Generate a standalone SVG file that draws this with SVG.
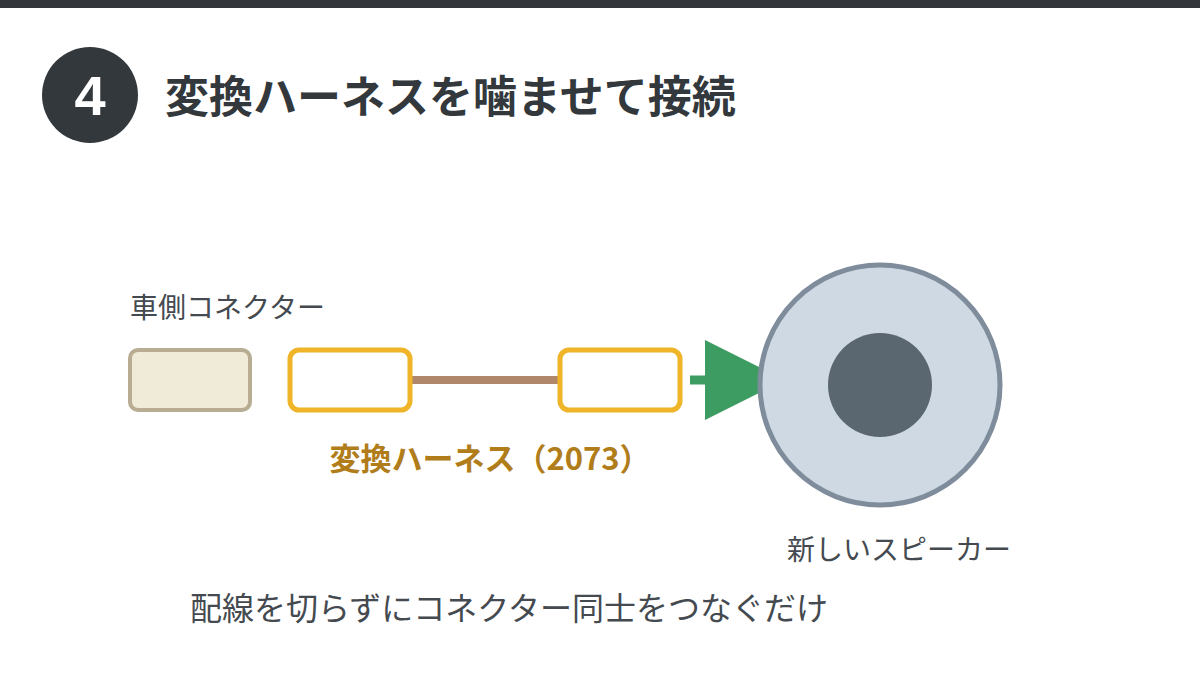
<svg xmlns="http://www.w3.org/2000/svg" width="1200" height="675" viewBox="0 0 1200 675">
<defs>
<style>
.jp{font-family:"Noto Sans CJK JP","Noto Sans",sans-serif;}
.lbl{font-size:28px;fill:#444a4f;}
.hbox{fill:#ffffff;stroke:#f0b429;stroke-width:5;}
</style>
</defs>
<rect x="0" y="0" width="1200" height="675" fill="#ffffff"/>
<rect x="0" y="0" width="1200" height="8" fill="#33373b"/>
<g id="step">
<circle cx="90" cy="95" r="48" fill="#33383c"/>
<text x="90" y="115" text-anchor="middle" font-family="Liberation Sans,Arial,sans-serif" font-weight="bold" font-size="56" fill="#ffffff">4</text>
</g>
<g id="title">
<text class="jp" x="165" y="113" font-size="44" font-weight="bold" fill="#33383c">変換ハーネスを噛ませて接続</text>
</g>
<g id="car-connector">
<rect x="130" y="350" width="120" height="60" rx="8" fill="#f0ead8" stroke="#b8ad92" stroke-width="4"/>
<text class="jp lbl" x="130" y="318">車側コネクター</text>
</g>
<g id="connectors">
<line x1="410" y1="380" x2="560" y2="380" stroke="#b0876a" stroke-width="8"/>
<line x1="690" y1="380" x2="705" y2="380" stroke="#3d9c62" stroke-width="9"/>
<path d="M705,340 L785,380 L705,420 Z" fill="#3d9c62"/>
</g>
<g id="harness">
<rect class="hbox" x="290" y="350" width="120" height="60" rx="9"/>
<rect class="hbox" x="560" y="350" width="120" height="60" rx="9"/>
<text class="jp" x="490" y="470" text-anchor="middle" font-size="31" font-weight="bold" fill="#b07d1a">変換ハーネス（2073）</text>
</g>
<g id="speaker">
<circle cx="880" cy="385" r="120" fill="#cfd9e3" stroke="#7f8c9b" stroke-width="5"/>
<circle cx="880" cy="385" r="52" fill="#5a6770"/>
<text class="jp lbl" x="899" y="560" text-anchor="middle">新しいスピーカー</text>
</g>
<g id="note">
<text class="jp" x="190" y="620" font-size="32" fill="#444a4f">配線を切らずにコネクター同士をつなぐだけ</text>
</g>
</svg>
